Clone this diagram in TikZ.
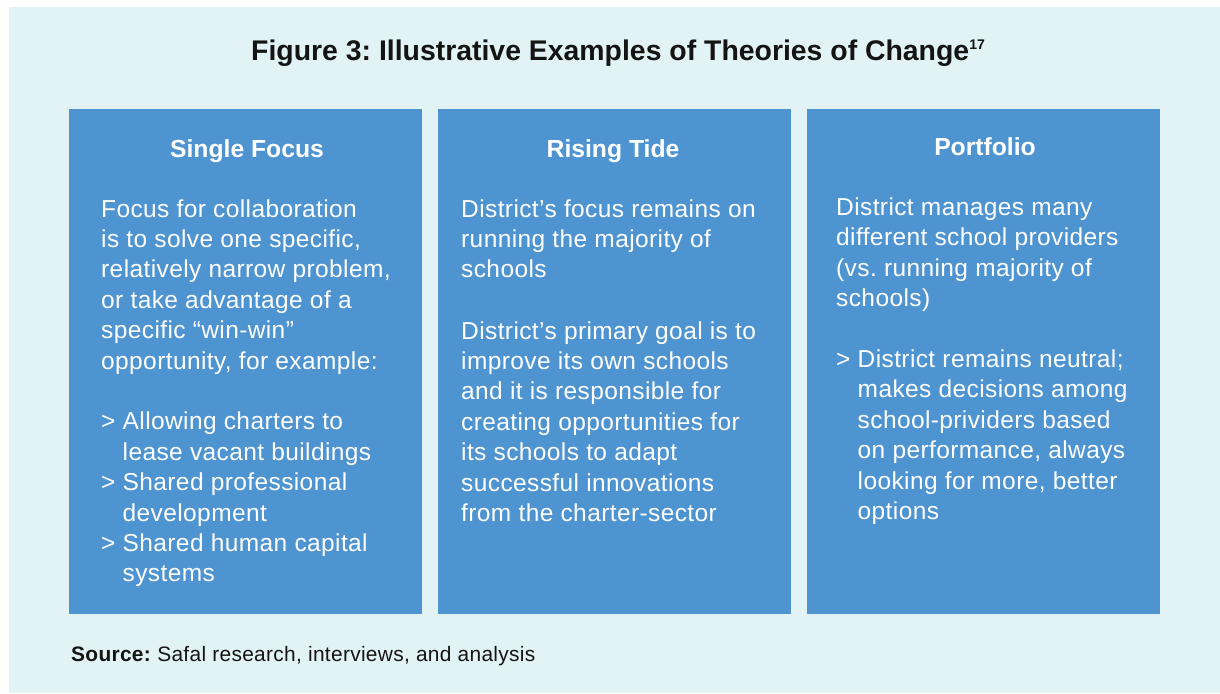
\documentclass[tikz,border=0pt]{standalone}
\usepackage{fontspec}
\setmainfont{Liberation Sans}
\frenchspacing
\definecolor{bgcol}{RGB}{226,243,246}
\definecolor{panelcol}{RGB}{78,148,208}
\definecolor{inkcol}{RGB}{20,20,20}
\newcommand{\bodyfont}{\fontsize{24.5pt}{30.4pt}\selectfont\addfontfeatures{LetterSpace=1.6}}
\newcommand{\hang}{\phantom{>\ }}
\begin{document}
\begin{tikzpicture}[x=1pt,y=-1pt,
  panel/.style={fill=panelcol, draw=none, inner sep=0pt, anchor=north west,
    minimum width=353pt, minimum height=505pt},
  headtext/.style={text=white, inner sep=0pt, anchor=base,
    font=\fontsize{24.7pt}{29pt}\selectfont\bfseries},
  bodytext/.style={text=white, inner sep=0pt, anchor=base west, align=left,
    font=\bodyfont},
]
\useasboundingbox (0,0) rectangle (1220,693);
\fill[white] (0,0) rectangle (1220,693);
\fill[bgcol] (9,7) rectangle (1220,693);

\node[text=inkcol, inner sep=0pt, anchor=base west,
  font=\fontsize{28.4pt}{32pt}\selectfont\bfseries] (title) at (251,60)
  {Figure 3: Illustrative Examples of Theories of Change\raisebox{10pt}{\fontsize{14pt}{15pt}\selectfont 17}};

\node[panel] (p1) at (69,109) {};
\node[panel] (p2) at (438,109) {};
\node[panel] (p3) at (807,109) {};

\node[headtext] (h1) at (247,157) {Single Focus};
\node[headtext] (h2) at (613,157) {Rising Tide};
\node[headtext] (h3) at (985,155) {Portfolio};

% anchor base west = baseline of the last line
\node[bodytext] (b1) at (101,581.8) {Focus for collaboration\\
is to solve one specific,\\
relatively narrow problem,\\
or take advantage of a\\
specific “win-win”\\
opportunity, for example:\\[30.4pt]
>\ Allowing charters to\\
\hang lease vacant buildings\\
>\ Shared professional\\
\hang development\\
>\ Shared human capital\\
\hang systems};

\node[bodytext] (b2a) at (461,277.8) {District’s focus remains on\\
running the majority of\\
schools};
\node[bodytext] (b2b) at (461,521.4) {District’s primary goal is to\\
improve its own schools\\
and it is responsible for\\
creating opportunities for\\
its schools to adapt\\
successful innovations\\
from the charter-sector};

\node[bodytext] (b3a) at (836,306.5) {District manages many\\
different school providers\\
(vs. running majority of\\
schools)};
\node[bodytext] (b3b) at (836,519.5) {>\ District remains neutral;\\
\hang makes decisions among\\
\hang school-prividers based\\
\hang on performance, always\\
\hang looking for more, better\\
\hang options};

\node[text=inkcol, inner sep=0pt, anchor=base west,
  font=\fontsize{20.9pt}{24pt}\selectfont\addfontfeatures{LetterSpace=1.5}] (src) at (71,661)
  {\textbf{Source:} Safal research, interviews, and analysis};
\end{tikzpicture}
\end{document}
